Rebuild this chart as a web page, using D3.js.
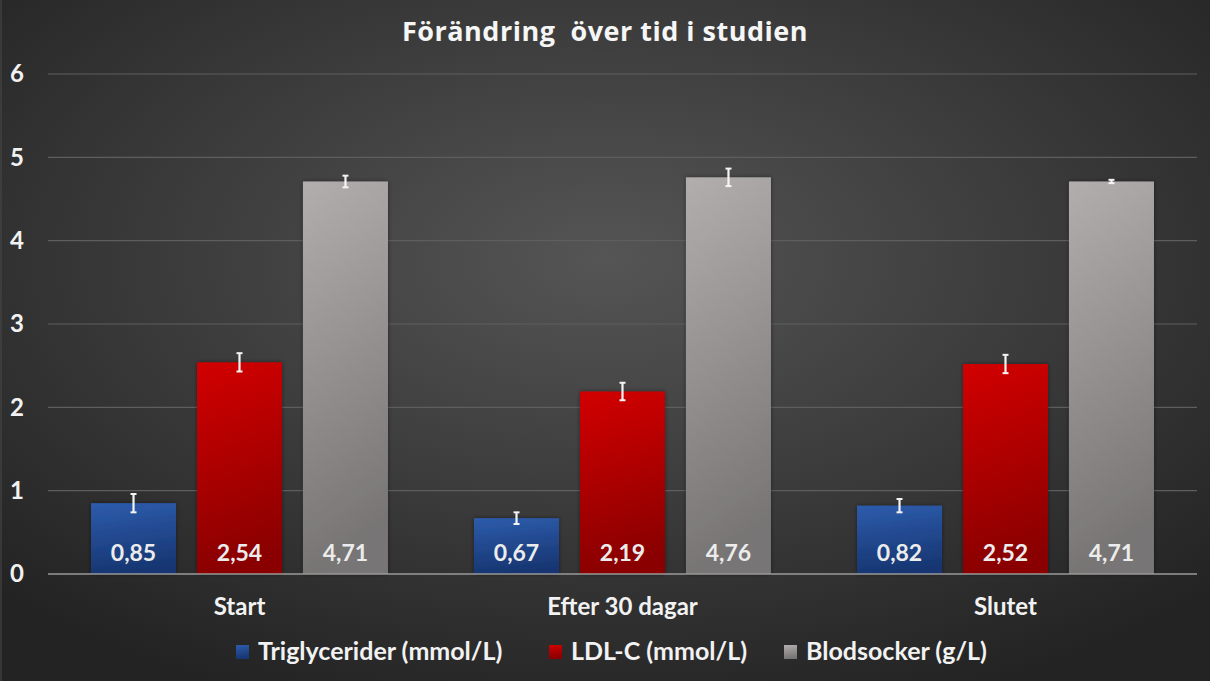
<!DOCTYPE html>
<html>
<head>
<meta charset="utf-8">
<script src="https://cdn.jsdelivr.net/npm/d3@7"></script>
<style>
  body { margin: 0; background: #2a2a2a; }
  svg { display: block; }
</style>
</head>
<body>
<svg id="chart"></svg>
<script>
// Data
const categories = ["Start", "Efter 30 dagar", "Slutet"];
const seriesNames = ["Triglycerider (mmol/L)", "LDL-C (mmol/L)", "Blodsocker (g/L)"];
const triglycerider = [0.85, 0.67, 0.82];
const ldlC = [2.54, 2.19, 2.52];
const blodsocker = [4.71, 4.76, 4.71];
const trigErr = [0.11, 0.07, 0.08];
const ldlErr = [0.11, 0.105, 0.11];
const blodErr = [0.07, 0.105, 0.02];
const yTicks = [0, 1, 2, 3, 4, 5, 6];

const W = 1210, H = 681;
const margin = { top: 74, right: 13, bottom: 107, left: 48 };

const svg = d3.select("#chart").attr("width", W).attr("height", H);
const defs = svg.append("defs");

// Background radial gradient
const bg = defs.append("radialGradient").attr("id", "bg")
  .attr("cx", "50%").attr("cy", "38%").attr("r", "70%");
bg.append("stop").attr("offset", "0%").attr("stop-color", "#555555");
bg.append("stop").attr("offset", "100%").attr("stop-color", "#232323");

svg.append("rect").attr("width", W).attr("height", H).attr("fill", "url(#bg)");
svg.append("line").attr("x1", 1).attr("x2", 1).attr("y1", 0).attr("y2", H)
  .attr("stroke", "#4a4a4a").attr("stroke-width", 1);

const palette = [
  { top: "#2d5cac", bottom: "#173672" },
  { top: "#d20000", bottom: "#8a0000" },
  { top: "#b3aeae", bottom: "#777474" }
];
palette.forEach((p, i) => {
  const g = defs.append("linearGradient").attr("id", "bar" + i)
    .attr("x1", "0").attr("y1", "0").attr("x2", "0.15").attr("y2", "1");
  g.append("stop").attr("offset", "0%").attr("stop-color", p.top);
  g.append("stop").attr("offset", "100%").attr("stop-color", p.bottom);
});

const shadow = defs.append("filter").attr("id", "shadow")
  .attr("x", "-10%").attr("y", "-5%").attr("width", "120%").attr("height", "110%");
shadow.append("feDropShadow").attr("dx", 0).attr("dy", 0).attr("stdDeviation", 2)
  .attr("flood-color", "#000").attr("flood-opacity", 0.45);

const data = categories.map((c, i) => ({
  category: c,
  values: [
    { s: 0, v: triglycerider[i], e: trigErr[i] },
    { s: 1, v: ldlC[i], e: ldlErr[i] },
    { s: 2, v: blodsocker[i], e: blodErr[i] }
  ]
}));

// Scales
const x0 = d3.scaleBand()
  .domain(categories)
  .range([margin.left, W - margin.right])
  .paddingInner(0).paddingOuter(0);

const x1 = d3.scaleBand()
  .domain([0, 1, 2])
  .range([0, x0.bandwidth()])
  .paddingInner(0.198).paddingOuter(0.406);

const y = d3.scaleLinear().domain([0, 6]).range([H - margin.bottom, margin.top]);

const font = "Lato, 'Open Sans', sans-serif";
const titleFont = "'Open Sans', sans-serif";

// Gridlines
svg.append("g")
  .selectAll("line")
  .data(yTicks.filter(d => d > 0))
  .join("line")
  .attr("x1", margin.left).attr("x2", W - margin.right)
  .attr("y1", d => y(d)).attr("y2", d => y(d))
  .attr("stroke", "#5e5e5e").attr("stroke-width", 1.2);

// Y axis labels
const yAxis = svg.append("g")
  .attr("transform", `translate(${margin.left},0)`)
  .call(d3.axisLeft(y).tickValues(yTicks).tickFormat(d3.format("d")).tickSize(0).tickPadding(31));
yAxis.select(".domain").remove();
yAxis.selectAll("text")
  .attr("fill", "#f2f2f2").attr("font-size", "24px").attr("font-weight", "bold")
  .attr("font-family", font).attr("text-anchor", "middle");

// Bars
const groups = svg.append("g").selectAll("g")
  .data(data)
  .join("g")
  .attr("transform", d => `translate(${x0(d.category)},0)`);

groups.selectAll("rect")
  .data(d => d.values)
  .join("rect")
  .attr("x", d => x1(d.s))
  .attr("y", d => y(d.v))
  .attr("width", x1.bandwidth())
  .attr("height", d => y(0) - y(d.v))
  .attr("fill", d => `url(#bar${d.s})`)
  .attr("filter", "url(#shadow)");

// Error bars
const capW = 3;
const err = groups.selectAll("g.err")
  .data(d => d.values)
  .join("g").attr("class", "err");
err.append("line")
  .attr("x1", d => x1(d.s) + x1.bandwidth() / 2)
  .attr("x2", d => x1(d.s) + x1.bandwidth() / 2)
  .attr("y1", d => y(d.v + d.e)).attr("y2", d => y(d.v - d.e))
  .attr("stroke", "#f4f4f4").attr("stroke-width", 2.2);
["+", "-"].forEach(sign => {
  err.append("line")
    .attr("x1", d => x1(d.s) + x1.bandwidth() / 2 - capW)
    .attr("x2", d => x1(d.s) + x1.bandwidth() / 2 + capW)
    .attr("y1", d => y(sign === "+" ? d.v + d.e : d.v - d.e))
    .attr("y2", d => y(sign === "+" ? d.v + d.e : d.v - d.e))
    .attr("stroke", "#f4f4f4").attr("stroke-width", 2);
});

// Value labels
groups.selectAll("text.val")
  .data(d => d.values)
  .join("text").attr("class", "val")
  .attr("x", d => x1(d.s) + x1.bandwidth() / 2)
  .attr("y", y(0) - 13)
  .attr("text-anchor", "middle")
  .attr("fill", "#ececec").attr("font-size", "23px").attr("font-weight", "bold")
  .attr("font-family", font)
  .text(d => d.v.toFixed(2).replace(".", ","));

// Baseline
svg.append("line")
  .attr("x1", margin.left).attr("x2", W - margin.right)
  .attr("y1", y(0)).attr("y2", y(0))
  .attr("stroke", "#9a9a9a").attr("stroke-width", 1.5);

// X axis labels
const xAxis = svg.append("g")
  .attr("transform", `translate(0,${y(0)})`)
  .call(d3.axisBottom(x0).tickSize(0).tickPadding(24));
xAxis.select(".domain").remove();
xAxis.selectAll("text")
  .attr("fill", "#f2f2f2").attr("font-size", "24px").attr("font-weight", "bold")
  .attr("font-family", font);

// Title
svg.append("text")
  .attr("x", W / 2).attr("y", 41)
  .attr("text-anchor", "middle")
  .attr("fill", "#f6f6f6").attr("font-size", "27px").attr("font-weight", "bold")
  .attr("font-family", titleFont)
  .attr("letter-spacing", "0.5px")
  .style("white-space", "pre")
  .text("Förändring  över tid i studien");

// Legend
const legendX = [236, 549, 784];
const legend = svg.append("g").selectAll("g")
  .data(seriesNames)
  .join("g")
  .attr("transform", (d, i) => `translate(${legendX[i]},645)`);
legend.append("rect")
  .attr("width", 13).attr("height", 14)
  .attr("fill", (d, i) => `url(#bar${i})`);
legend.append("text")
  .attr("x", 22).attr("y", 15)
  .attr("fill", "#f2f2f2").attr("font-size", "25px").attr("font-weight", "bold")
  .attr("font-family", font)
  .text(d => d);
</script>
</body>
</html>
